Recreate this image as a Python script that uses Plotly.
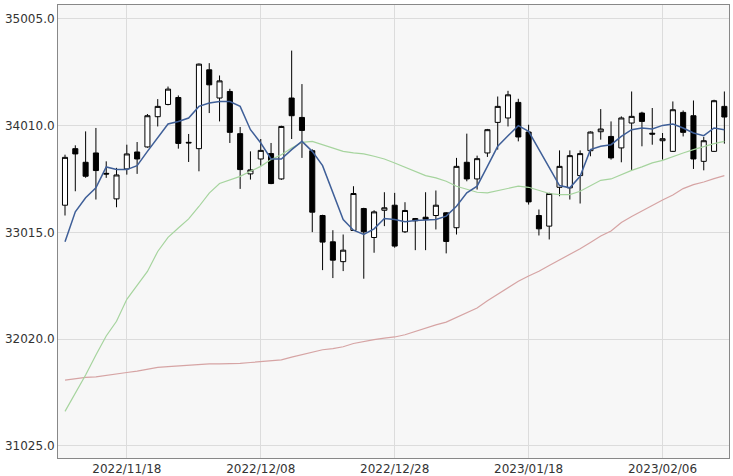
import plotly.graph_objects as go

dates = ["2022/11/10", "2022/11/11", "2022/11/14", "2022/11/15", "2022/11/16", "2022/11/17",
         "2022/11/18", "2022/11/21", "2022/11/22", "2022/11/23", "2022/11/25", "2022/11/28",
         "2022/11/29", "2022/11/30", "2022/12/01", "2022/12/02", "2022/12/05", "2022/12/06",
         "2022/12/07", "2022/12/08", "2022/12/09", "2022/12/12", "2022/12/13", "2022/12/14",
         "2022/12/15", "2022/12/16", "2022/12/19", "2022/12/20", "2022/12/21", "2022/12/22",
         "2022/12/23", "2022/12/27", "2022/12/28", "2022/12/29", "2022/12/30", "2023/01/03",
         "2023/01/04", "2023/01/05", "2023/01/06", "2023/01/09", "2023/01/10", "2023/01/11",
         "2023/01/12", "2023/01/13", "2023/01/17", "2023/01/18", "2023/01/19", "2023/01/20",
         "2023/01/23", "2023/01/24", "2023/01/25", "2023/01/26", "2023/01/27", "2023/01/30",
         "2023/01/31", "2023/02/01", "2023/02/02", "2023/02/03", "2023/02/06", "2023/02/07",
         "2023/02/08", "2023/02/09", "2023/02/10", "2023/02/13", "2023/02/14"]

open_ = [33269, 33796, 33669, 33756, 33566, 33328, 33607, 33765, 33812, 34094, 34208, 34273,
         33855, 33796, 34531, 34268, 34329, 33936, 33561, 33700, 33750, 33514, 34268, 34087,
         33777, 33173, 32928, 32743, 33034, 33238, 32968, 33222, 33269, 33021, 33124, 33157,
         33173, 33198, 33059, 33669, 33514, 33756, 34041, 34082, 34227, 33951, 33173, 33074,
         33436, 33431, 33545, 33777, 33954, 33910, 33803, 34035, 34128, 33940, 33870, 33771,
         34134, 34103, 33678, 33771, 34190]
high = [33740, 33827, 33957, 33989, 33678, 33617, 33833, 33858, 34119, 34258, 34375, 34292,
        33933, 34590, 34593, 34478, 34354, 33998, 33771, 33886, 33849, 34010, 34710, 34398,
        33790, 33180, 33036, 32996, 33446, 33245, 33222, 33390, 33384, 33297, 33150, 33390,
        33406, 33205, 33710, 33936, 33731, 33980, 34282, 34335, 34261, 34019, 33229, 33385,
        33780, 33780, 33780, 33957, 34165, 34050, 34097, 34329, 34140, 34175, 33942, 34236,
        34152, 34245, 33905, 34252, 34329]
low = [33173, 33399, 33525, 33322, 33524, 33250, 33554, 33561, 33805, 34003, 34200, 33796,
       33672, 33585, 34128, 34050, 33849, 33421, 33508, 33638, 33465, 33505, 33886, 33710,
       33018, 32664, 32590, 32655, 33030, 32584, 32826, 33074, 32873, 33010, 32850, 32850,
       33043, 32820, 32996, 33492, 33415, 33719, 33787, 34003, 33864, 33275, 32987, 32950,
       33353, 33322, 33285, 33725, 33880, 33694, 33669, 33594, 33818, 33833, 33694, 33765,
       33910, 33607, 33594, 33765, 33843]
close = [33715, 33747, 33539, 33592, 33560, 33551, 33747, 33700, 34103, 34190, 34351, 33845,
         33850, 34584, 34391, 34428, 33948, 33601, 33598, 33780, 33471, 34003, 34103, 33966,
         33204, 32925, 32757, 32850, 33378, 33021, 33207, 33245, 32888, 33220, 33145, 33139,
         33269, 32931, 33631, 33514, 33703, 33973, 34190, 34298, 33905, 33300, 33049, 33378,
         33631, 33731, 33750, 33951, 33979, 33710, 34082, 34097, 34050, 33932, 33889, 34159,
         33948, 33700, 33870, 34243, 34091]

ma5 = [32928, 33207, 33338, 33431, 33626, 33601, 33601, 33638, 33771, 33896, 34026, 34050,
       34082, 34190, 34221, 34236, 34236, 34190, 33973, 33849, 33700, 33700, 33787, 33864,
       33771, 33638, 33384, 33136, 33036, 32996, 33049, 33145, 33136, 33114, 33127, 33133,
       33136, 33167, 33260, 33384, 33446, 33631, 33818, 33917, 34010, 33957, 33787, 33626,
       33452, 33431, 33538, 33787, 33818, 33833, 33910, 33973, 33989, 33979, 34013, 34026,
       33989, 33942, 33917, 33989, 33973]
ma25 = [31348, 31512, 31687, 31873, 32050, 32187, 32392, 32522, 32652, 32838, 32969, 33057,
        33141, 33257, 33382, 33471, 33508, 33538, 33585, 33631, 33694, 33740, 33803, 33855,
        33864, 33833, 33803, 33771, 33756, 33747, 33725, 33700, 33663, 33626, 33585, 33545,
        33524, 33492, 33446, 33415, 33390, 33384, 33406, 33431, 33446, 33436, 33406, 33378,
        33368, 33368, 33399, 33452, 33501, 33514, 33554, 33594, 33626, 33663, 33687, 33725,
        33756, 33787, 33818, 33843, 33864]
ma75 = [31639, 31653, 31664, 31670, 31685, 31694, 31710, 31722, 31741, 31757, 31764, 31771,
        31774, 31781, 31790, 31790, 31790, 31794, 31803, 31809, 31816, 31827, 31853, 31878,
        31904, 31922, 31933, 31950, 31980, 32001, 32017, 32031, 32041, 32062, 32094, 32122,
        32154, 32180, 32222, 32262, 32311, 32378, 32438, 32504, 32560, 32609, 32653, 32708,
        32760, 32810, 32863, 32922, 32982, 33028, 33108, 33164, 33215, 33271, 33317, 33364,
        33424, 33461, 33485, 33517, 33545]

y_ticks = [31025.0, 32020.0, 33015.0, 34010.0, 35005.0]
x_ticks = ["2022/11/18", "2022/12/08", "2022/12/28", "2023/01/18", "2023/02/06"]

fig = go.Figure()
fig.add_trace(go.Scatter(x=dates, y=ma75, mode="lines",
                         line=dict(color="#d6a4a4", width=1.2), hoverinfo="skip"))
fig.add_trace(go.Scatter(x=dates, y=ma25, mode="lines",
                         line=dict(color="#a6d49e", width=1.2), hoverinfo="skip"))
fig.add_trace(go.Candlestick(
    x=dates, open=open_, high=high, low=low, close=close,
    increasing=dict(line=dict(color="#000000", width=1), fillcolor="#ffffff"),
    decreasing=dict(line=dict(color="#000000", width=1), fillcolor="#000000"),
    whiskerwidth=0, hoverinfo="skip"))
fig.add_trace(go.Scatter(x=dates, y=ma5, mode="lines",
                         line=dict(color="#3f5f98", width=1.5), hoverinfo="skip"))

fig.update_layout(
    width=733, height=476,
    margin=dict(l=58, r=4, t=5, b=18),
    paper_bgcolor="#ffffff",
    plot_bgcolor="#f7f7f7",
    showlegend=False,
    font=dict(family="DejaVu Sans", size=12, color="#333333"),
    boxgap=0.3,
    xaxis=dict(
        type="category",
        range=[-0.68, 64.45],
        tickvals=x_ticks, ticktext=x_ticks,
        showgrid=True, gridcolor="#dcdcdc", gridwidth=1,
        showline=True, linecolor="#888888", linewidth=1, mirror=True,
        ticks="", rangeslider=dict(visible=False), zeroline=False,
        fixedrange=True, automargin=False,
    ),
    yaxis=dict(
        range=[30913, 35135],
        tickvals=y_ticks, tickformat=".1f",
        showgrid=True, gridcolor="#dcdcdc", gridwidth=1,
        showline=True, linecolor="#888888", linewidth=1, mirror=True,
        ticks="", zeroline=False, fixedrange=True, automargin=False,
    ),
)

fig.write_html("out.html")
